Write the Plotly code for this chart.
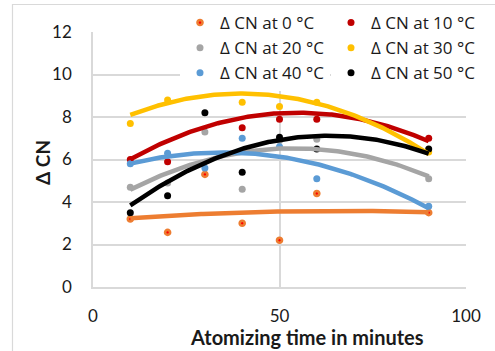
import numpy as np
import plotly.graph_objects as go

# ---- data ----
time_min = [10, 20, 30, 40, 50, 60, 90]
dcn_0 = [3.2, 2.57, 5.3, 3.0, 2.2, 4.4, 3.5]
dcn_10 = [6.0, 5.9, 9.4, 7.5, 7.9, 7.9, 7.0]
dcn_20 = [4.7, 4.9, 7.3, 4.6, 6.9, 6.95, 5.1]
dcn_30 = [7.7, 8.8, 10.0, 8.7, 8.5, 8.7, 6.35]
dcn_40 = [5.8, 6.3, 5.6, 7.0, 6.6, 5.1, 3.8]
dcn_50 = [3.5, 4.3, 8.2, 5.4, 7.05, 6.5, 6.5]
series_names = ["Δ CN at 0 °C", "Δ CN at 10 °C", "Δ CN at 20 °C",
                "Δ CN at 30 °C", "Δ CN at 40 °C", "Δ CN at 50 °C"]
x_ticks = [0, 50, 100]
y_ticks = [0, 2, 4, 6, 8, 10, 12]

series_values = [dcn_0, dcn_10, dcn_20, dcn_30, dcn_40, dcn_50]
colors = ["#ED7D31", "#C00000", "#A5A5A5", "#FFC000", "#5B9BD5", "#000000"]
legend_ids = ["legend", "legend2", "legend", "legend2", "legend", "legend2"]

FONT = "Lato"
W, H = 495, 351
L, R, T, B = 93, 29, 32, 64
PW, PH = W - L - R, H - T - B


def px_x(p):
    return (p - L) / PW


def px_y(p):
    return (H - B - p) / PH


fig = go.Figure()

# scatter markers
for name, vals, col, lg in zip(series_names, series_values, colors, legend_ids):
    if name == series_names[0]:
        marker = dict(size=5, color="#FF0000", line=dict(color=col, width=2.6))
    else:
        marker = dict(size=7, color=col)
    fig.add_trace(go.Scatter(x=time_min, y=vals, mode="markers", name=name,
                             marker=marker, legend=lg))

# polynomial (order 2) trendlines
xs = np.linspace(min(time_min), max(time_min), 161)
for name, vals, col in zip(series_names, series_values, colors):
    c = np.polyfit(time_min, vals, 2)
    fig.add_trace(go.Scatter(x=xs, y=np.polyval(c, xs), mode="lines",
                             line=dict(color=col, width=4.5), showlegend=False,
                             hoverinfo="skip"))

grid = "#D9D9D9"
legend_font = dict(family="Open Sans", size=17, color="#1a1a1a")
fig.update_layout(
    width=W, height=H,
    margin=dict(l=L, r=R, t=T, b=B, autoexpand=False),
    paper_bgcolor="white", plot_bgcolor="white",
    font=dict(family=FONT, size=17, color="#1a1a1a"),
    xaxis=dict(range=[0, 100], tickvals=x_ticks, showgrid=True, gridcolor=grid,
               gridwidth=1.5, showline=True, linecolor=grid, linewidth=1.5,
               zeroline=False, ticks="", ticklabelstandoff=13,
               tickfont=dict(size=17)),
    yaxis=dict(range=[0, 12], tickvals=y_ticks, showgrid=True, gridcolor=grid,
               gridwidth=1.5, showline=True, linecolor=grid, linewidth=1.5,
               zeroline=False, ticks="", ticklabelstandoff=16,
               tickfont=dict(size=17)),
    legend=dict(x=px_x(180), y=px_y(5), xanchor="left", yanchor="top",
                bgcolor="white", font=legend_font, tracegroupgap=0),
    legend2=dict(x=px_x(331), y=px_y(5), xanchor="left", yanchor="top",
                 bgcolor="white", font=legend_font, tracegroupgap=0),
    showlegend=True,
)

# axis titles
fig.add_annotation(text="<b>Atomizing time in minutes</b>", xref="paper", yref="paper",
                   x=px_x(307), y=px_y(337), xanchor="center", yanchor="middle",
                   showarrow=False, font=dict(size=20, family=FONT))
fig.add_annotation(text="<b>Δ CN</b>", xref="paper", yref="paper",
                   x=px_x(42), y=px_y(163), xanchor="center", yanchor="middle",
                   showarrow=False, textangle=-90, font=dict(size=19, family=FONT))

# chart border
fig.add_shape(type="rect", xref="paper", yref="paper",
              x0=px_x(12.5), y0=px_y(360), x1=px_x(500), y1=px_y(4.5),
              line=dict(color=grid, width=1.2), layer="below")

fig.write_html("out.html", config={"displayModeBar": False},
               post_script="document.body.style.margin='0';")
